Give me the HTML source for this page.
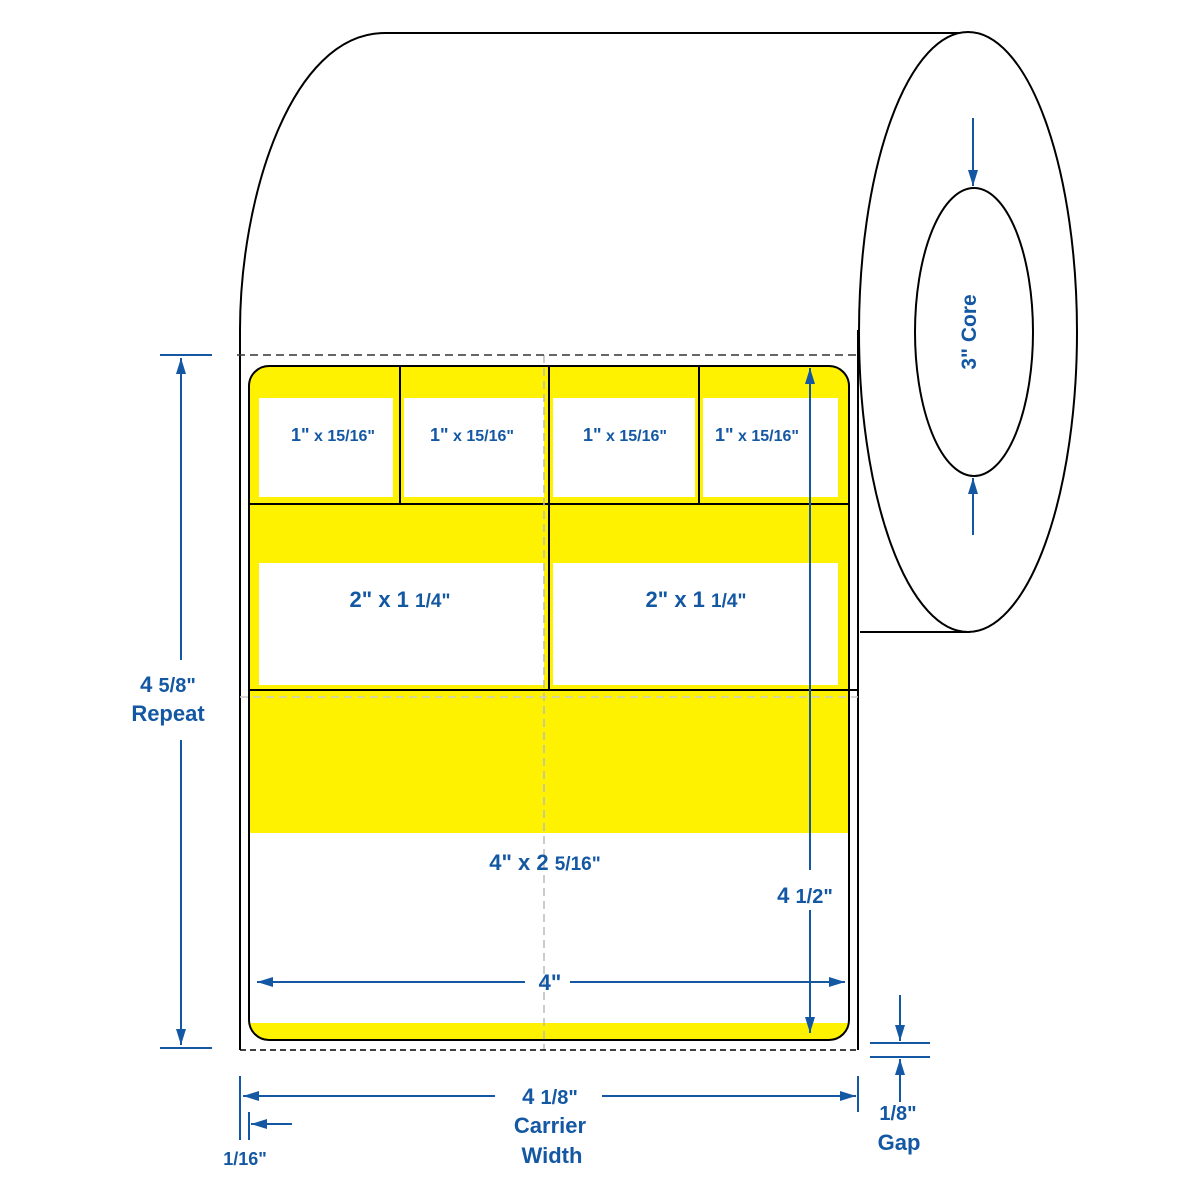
<!DOCTYPE html>
<html><head><style>html,body{margin:0;padding:0;background:#fff}svg{display:block}
text{font-family:"Liberation Sans",Arial,sans-serif;font-weight:bold;fill:#1458a4}</style></head>
<body>
<svg width="1200" height="1200" viewBox="0 0 1200 1200" xmlns="http://www.w3.org/2000/svg">
<defs>
<marker id="a" viewBox="0 0 16 12" refX="16" refY="6" markerWidth="16" markerHeight="12" markerUnits="userSpaceOnUse" orient="auto"><path d="M0,1 L16,6 L0,11z" fill="#1458a4"/></marker>
</defs>
<path d="M970,33 L385,33 C290,33 240,200 240,330 L240,1050" fill="none" stroke="#000" stroke-width="2"/>
<ellipse cx="968" cy="332" rx="109" ry="300" fill="#fff" stroke="#000" stroke-width="2"/>
<line x1="860" y1="632" x2="970" y2="632" stroke="#000" stroke-width="2"/>
<ellipse cx="974" cy="332" rx="59" ry="144" fill="#fff" stroke="#000" stroke-width="2"/>
<line x1="858" y1="330" x2="858" y2="1050" stroke="#000" stroke-width="2"/>
<clipPath id="c"><rect x="249" y="366" width="600" height="674" rx="20"/></clipPath>
<g clip-path="url(#c)">
<rect x="249" y="366" width="600" height="674" fill="#fff200"/>
<rect x="249" y="833" width="600" height="190" fill="#fff"/>
<rect x="259" y="398" width="134" height="99" fill="#fff"/>
<rect x="404" y="398" width="140" height="99" fill="#fff"/>
<rect x="553" y="398" width="142" height="99" fill="#fff"/>
<rect x="703" y="398" width="135" height="99" fill="#fff"/>
<rect x="259" y="563" width="285" height="122" fill="#fff"/>
<rect x="553" y="563" width="285" height="122" fill="#fff"/>
</g>
<rect x="249" y="366" width="600" height="674" rx="20" fill="none" stroke="#000" stroke-width="2"/>
<g stroke="#000" stroke-width="2">
<line x1="400" y1="366" x2="400" y2="504"/><line x1="549" y1="366" x2="549" y2="690"/><line x1="699" y1="366" x2="699" y2="504"/>
<line x1="249" y1="504" x2="849" y2="504"/><line x1="249" y1="690" x2="858" y2="690"/>
</g>
<line x1="544" y1="355" x2="544" y2="1050" stroke="#bbb" stroke-width="1.5" stroke-dasharray="8,5"/>
<line x1="240" y1="697" x2="858" y2="697" stroke="#ccc" stroke-width="1.5" stroke-dasharray="8,5"/>
<line x1="237" y1="355" x2="858" y2="355" stroke="#333" stroke-width="1.5" stroke-dasharray="8,5"/>
<line x1="240" y1="1050" x2="858" y2="1050" stroke="#000" stroke-width="1.5" stroke-dasharray="6,4"/>
<g font-size="16" text-anchor="middle">
<text x="333" y="441"><tspan font-size="18">1"</tspan> x 15/16"</text>
<text x="472" y="441"><tspan font-size="18">1"</tspan> x 15/16"</text>
<text x="625" y="441"><tspan font-size="18">1"</tspan> x 15/16"</text>
<text x="757" y="441"><tspan font-size="18">1"</tspan> x 15/16"</text>
</g>
<text x="400" y="607" font-size="22" text-anchor="middle">2" x 1 <tspan font-size="19">1/4"</tspan></text>
<text x="696" y="607" font-size="22" text-anchor="middle">2" x 1 <tspan font-size="19">1/4"</tspan></text>
<text x="545" y="870" font-size="22" text-anchor="middle">4" x 2 <tspan font-size="19">5/16"</tspan></text>
<g stroke="#1458a4" stroke-width="2" fill="none">
<line x1="160" y1="355" x2="212" y2="355"/><line x1="160" y1="1048" x2="212" y2="1048"/>
<line x1="181" y1="660" x2="181" y2="358" marker-end="url(#a)"/>
<line x1="181" y1="740" x2="181" y2="1045" marker-end="url(#a)"/>
<line x1="810" y1="870" x2="810" y2="368" marker-end="url(#a)"/>
<line x1="810" y1="910" x2="810" y2="1033" marker-end="url(#a)"/>
<line x1="525" y1="982" x2="257" y2="982" marker-end="url(#a)"/>
<line x1="570" y1="982" x2="845" y2="982" marker-end="url(#a)"/>
<line x1="240" y1="1076" x2="240" y2="1140"/><line x1="249" y1="1112" x2="249" y2="1140"/>
<line x1="858" y1="1076" x2="858" y2="1112"/>
<line x1="495" y1="1096" x2="243" y2="1096" marker-end="url(#a)"/>
<line x1="602" y1="1096" x2="856" y2="1096" marker-end="url(#a)"/>
<line x1="292" y1="1124" x2="251" y2="1124" marker-end="url(#a)"/>
<line x1="870" y1="1043" x2="930" y2="1043"/><line x1="870" y1="1057" x2="930" y2="1057"/>
<line x1="900" y1="995" x2="900" y2="1041" marker-end="url(#a)"/>
<line x1="900" y1="1102" x2="900" y2="1059" marker-end="url(#a)"/>
<line x1="973" y1="118" x2="973" y2="186" marker-end="url(#a)"/>
<line x1="973" y1="535" x2="973" y2="478" marker-end="url(#a)"/>
</g>
<g font-size="22" text-anchor="middle">
<text x="168" y="692">4 <tspan font-size="20">5/8"</tspan></text>
<text x="168" y="721">Repeat</text>
<text x="805" y="903">4 <tspan font-size="20">1/2"</tspan></text>
<text x="550" y="990">4"</text>
<text x="550" y="1104">4 <tspan font-size="20">1/8"</tspan></text>
<text x="550" y="1133">Carrier</text>
<text x="552" y="1163">Width</text>
<text x="245" y="1165" font-size="18">1/16"</text>
<text x="898" y="1120" font-size="20">1/8"</text>
<text x="899" y="1150">Gap</text>
<text transform="translate(976,332) rotate(-90)" font-size="21">3" Core</text>
</g>
</svg>
</body></html>
